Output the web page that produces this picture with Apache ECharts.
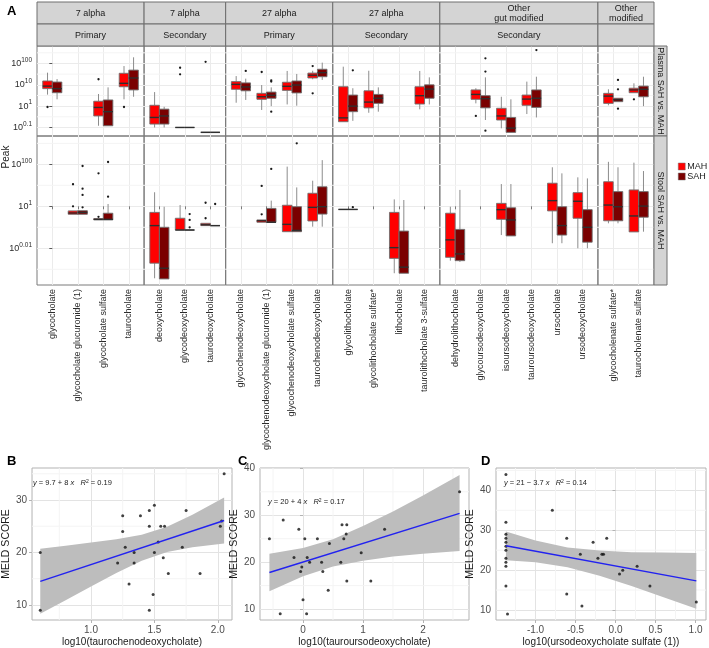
<!DOCTYPE html>
<html><head><meta charset="utf-8">
<script src="https://cdn.jsdelivr.net/npm/echarts@6/dist/echarts.min.js"></script>
<style>html,body{margin:0;padding:0;background:#fff}#c{width:709px;height:648px}</style>
</head><body><div id="c"></div><script>
const FONT = '"Liberation Sans", Arial, Helvetica, sans-serif';

// ================= Panel A data =================
const facetTop = ['7 alpha', '7 alpha', '27 alpha', '27 alpha', 'Other\ngut modified', 'Other\nmodified'];
const facetSub = ['Primary', 'Secondary', 'Primary', 'Secondary', 'Secondary', ''];
const facetCats = [
  ['glycocholate', 'glycocholate glucuronide (1)', 'glycocholate sulfate', 'taurocholate'],
  ['deoxycholate', 'glycodeoxycholate', 'taurodeoxycholate'],
  ['glycochenodeoxycholate', 'glycochenodeoxycholate glucuronide (1)', 'glycochenodeoxycholate sulfate', 'taurochenodeoxycholate'],
  ['glycolithocholate', 'glycolithocholate sulfate*', 'lithocholate', 'taurolithocholate 3-sulfate'],
  ['dehydrolithocholate', 'glycoursodeoxycholate', 'isoursodeoxycholate', 'tauroursodeoxycholate', 'ursocholate', 'ursodeoxycholate'],
  ['glycocholenate sulfate*', 'taurocholenate sulfate']
];
const rowNames = ['Plasma SAH vs. MAH', 'Stool SAH vs. MAH'];
const groupNames = ['MAH', 'SAH'];
const groupColors = ['#FF0000', '#7A0000'];
// y position on the double-log axis: 2 = 10^100, 1 = 10^10, 0 = 10^1, -1 = 10^0.1, -2 = 10^0.01
const plasmaTicks = [-1, 0, 1, 2];
const plasmaTickLabels = ['0.1', '1', '10', '100'];
const plasmaMinor = [-0.5, 0.5, 1.5, 2.5];
const stoolTicks = [-2, 0, 2];
const stoolTickLabels = ['0.01', '1', '100'];
const stoolMinor = [-3, -1, 1, 3];

// [metabolite, lower whisker, Q1, median, Q3, upper whisker]
const plasmaMAH = [
  ['glycocholate', 0.54, 0.82, 0.94, 1.18, 1.57],
  ['glycocholate sulfate', -0.92, -0.46, -0.06, 0.23, 0.57],
  ['taurocholate', 0.32, 0.91, 1.07, 1.54, 1.88],
  ['deoxycholate', -1.0, -0.84, -0.53, 0.04, 0.66],
  ['glycodeoxycholate', -1.0, -1.0, -1.0, -1.0, -1.0],
  ['taurodeoxycholate', -1.23, -1.23, -1.23, -1.23, -1.23],
  ['glycochenodeoxycholate', 0.16, 0.79, 1.02, 1.15, 1.41],
  ['glycochenodeoxycholate glucuronide (1)', -0.18, 0.32, 0.44, 0.60, 0.99],
  ['glycochenodeoxycholate sulfate', 0.08, 0.74, 0.93, 1.12, 1.65],
  ['taurochenodeoxycholate', 1.26, 1.32, 1.45, 1.55, 1.66],
  ['glycolithocholate', -0.73, -0.73, -0.55, 0.91, 1.85],
  ['glycolithocholate sulfate*', -0.31, -0.08, 0.19, 0.72, 1.66],
  ['taurolithocholate 3-sulfate', -0.15, 0.10, 0.49, 0.91, 1.65],
  ['glycoursodeoxycholate', 0.13, 0.32, 0.55, 0.76, 0.84],
  ['isoursodeoxycholate', -1.04, -0.65, -0.46, -0.10, 0.44],
  ['tauroursodeoxycholate', -0.37, 0.04, 0.33, 0.52, 1.15],
  ['glycocholenate sulfate*', 0.04, 0.13, 0.47, 0.60, 0.79],
  ['taurocholenate sulfate', 0.63, 0.63, 0.76, 0.84, 1.07]
];
const plasmaSAH = [
  ['glycocholate', 0.32, 0.63, 0.82, 1.13, 1.27],
  ['glycocholate sulfate', -0.92, -0.92, -0.26, 0.29, 0.88],
  ['taurocholate', 0.44, 0.76, 1.32, 1.69, 2.29],
  ['deoxycholate', -1.0, -0.84, -0.46, -0.14, -0.03],
  ['glycodeoxycholate', -1.0, -1.0, -1.0, -1.0, -1.0],
  ['taurodeoxycholate', -1.23, -1.23, -1.23, -1.23, -1.23],
  ['glycochenodeoxycholate', 0.29, 0.72, 0.90, 1.09, 1.29],
  ['glycochenodeoxycholate glucuronide (1)', 0.0, 0.37, 0.51, 0.66, 0.88],
  ['glycochenodeoxycholate sulfate', 0.02, 0.62, 0.99, 1.18, 1.51],
  ['taurochenodeoxycholate', 1.23, 1.38, 1.57, 1.73, 2.04],
  ['glycolithocholate', -0.69, -0.26, 0.0, 0.52, 0.84],
  ['glycolithocholate sulfate*', -0.26, 0.13, 0.37, 0.55, 0.88],
  ['taurolithocholate 3-sulfate', 0.08, 0.37, 0.80, 1.0, 1.35],
  ['glycoursodeoxycholate', -0.65, -0.08, 0.35, 0.49, 1.35],
  ['isoursodeoxycholate', -1.23, -1.23, -1.03, -0.53, 0.32],
  ['tauroursodeoxycholate', -0.53, -0.06, 0.37, 0.76, 1.38],
  ['glycocholenate sulfate*', 0.21, 0.21, 0.30, 0.37, 0.37],
  ['taurocholenate sulfate', 0.0, 0.44, 0.79, 0.94, 1.38]
];
const plasmaMAHOut = [
  ['glycocholate', -0.04], ['glycocholate sulfate', 1.26], ['taurocholate', -0.04],
  ['glycodeoxycholate', 1.80], ['glycodeoxycholate', 1.49], ['taurodeoxycholate', 2.08],
  ['glycochenodeoxycholate glucuronide (1)', 1.60], ['taurochenodeoxycholate', 1.88],
  ['taurochenodeoxycholate', 0.60], ['glycoursodeoxycholate', -0.46], ['taurocholenate sulfate', 0.32]
];
const plasmaSAHOut = [
  ['glycochenodeoxycholate', 1.65], ['glycochenodeoxycholate glucuronide (1)', 1.21],
  ['glycochenodeoxycholate glucuronide (1)', 1.15], ['glycochenodeoxycholate glucuronide (1)', -0.26],
  ['glycolithocholate', 1.68], ['glycoursodeoxycholate', 2.24], ['glycoursodeoxycholate', 1.62],
  ['glycoursodeoxycholate', -1.15], ['tauroursodeoxycholate', 2.63],
  ['glycocholenate sulfate*', 1.23], ['glycocholenate sulfate*', 0.79], ['glycocholenate sulfate*', -0.12]
];
const stoolMAH = [
  ['glycocholate glucuronide (1)', -0.38, -0.38, -0.32, -0.22, -0.22],
  ['glycocholate sulfate', -0.65, -0.65, -0.62, -0.59, -0.59],
  ['deoxycholate', -3.43, -2.71, -0.92, -0.29, 0.67],
  ['glycodeoxycholate', -1.13, -1.13, -1.13, -0.57, 0.06],
  ['taurodeoxycholate', -0.92, -0.92, -0.88, -0.81, -0.81],
  ['glycochenodeoxycholate glucuronide (1)', -0.76, -0.76, -0.69, -0.65, -0.65],
  ['glycochenodeoxycholate sulfate', -1.21, -1.21, -0.86, 0.05, 1.89],
  ['taurochenodeoxycholate', -0.97, -0.70, -0.05, 0.62, 1.22],
  ['glycolithocholate', -0.15, -0.15, -0.15, -0.15, -0.15],
  ['lithocholate', -3.19, -2.48, -1.97, -0.29, 0.33],
  ['dehydrolithocholate', -2.59, -2.43, -1.60, -0.33, -0.02],
  ['isoursodeoxycholate', -1.37, -0.62, -0.16, 0.14, 1.06],
  ['ursocholate', -1.76, -0.22, 0.27, 1.10, 1.86],
  ['ursodeoxycholate', -2.0, -0.57, 0.24, 0.65, 1.38],
  ['glycocholenate sulfate*', -0.81, -0.69, 0.06, 1.17, 2.12],
  ['taurocholenate sulfate', -1.22, -1.22, -0.46, 0.78, 2.08]
];
const stoolSAH = [
  ['glycocholate glucuronide (1)', -0.38, -0.38, -0.29, -0.21, -0.21],
  ['glycocholate sulfate', -0.65, -0.65, -0.62, -0.33, 0.11],
  ['deoxycholate', -3.46, -3.46, -2.95, -1.0, -0.02],
  ['glycodeoxycholate', -1.13, -1.13, -1.13, -1.13, -1.13],
  ['taurodeoxycholate', -0.92, -0.92, -0.92, -0.92, -0.92],
  ['glycochenodeoxycholate glucuronide (1)', -0.76, -0.76, -0.76, -0.10, 0.27],
  ['glycochenodeoxycholate sulfate', -1.21, -1.21, -1.15, -0.02, 0.90],
  ['taurochenodeoxycholate', -0.97, -0.37, -0.02, 0.93, 2.20],
  ['glycolithocholate', -0.15, -0.15, -0.15, -0.15, -0.15],
  ['lithocholate', -3.19, -3.19, -2.90, -1.18, 0.30],
  ['dehydrolithocholate', -2.65, -2.59, -2.27, -1.10, 0.78],
  ['isoursodeoxycholate', -1.41, -1.41, -0.65, -0.07, 1.06],
  ['ursocholate', -1.76, -1.37, -0.92, -0.02, 1.57],
  ['ursodeoxycholate', -2.0, -1.71, -1.0, -0.16, 1.33],
  ['glycocholenate sulfate*', -0.81, -0.69, -0.02, 0.70, 1.86],
  ['taurocholenate sulfate', -1.21, -0.52, 0.01, 0.70, 1.68]
];
const stoolMAHOut = [
  ['glycocholate glucuronide (1)', 1.05], ['glycocholate glucuronide (1)', 0.0],
  ['glycocholate sulfate', 1.57], ['glycocholate sulfate', -0.50],
  ['taurodeoxycholate', 0.17], ['taurodeoxycholate', -0.57],
  ['glycochenodeoxycholate glucuronide (1)', 0.97], ['glycochenodeoxycholate glucuronide (1)', -0.38]
];
const stoolSAHOut = [
  ['glycocholate glucuronide (1)', 1.92], ['glycocholate glucuronide (1)', 0.84],
  ['glycocholate glucuronide (1)', 0.54], ['glycocholate glucuronide (1)', -0.05],
  ['glycocholate sulfate', 2.11], ['glycocholate sulfate', 0.46],
  ['glycodeoxycholate', -0.37], ['glycodeoxycholate', -0.65], ['glycodeoxycholate', -1.0],
  ['taurodeoxycholate', 0.11], ['glycochenodeoxycholate glucuronide (1)', 1.78],
  ['glycochenodeoxycholate sulfate', 3.0], ['glycolithocholate', -0.04]
];

// ================= Panels B, C, D data =================
const bX = [0.60, 0.60, 1.25, 1.25, 1.27, 1.21, 1.34, 1.30, 1.34, 1.39, 1.46, 1.46, 1.50, 1.55, 1.58, 1.53, 1.50, 1.57, 1.61, 1.49, 1.46, 1.75, 1.72, 1.86, 2.02, 2.03, 2.05];
const bY = [20, 9, 27, 24, 21, 18, 18, 14, 20, 27, 28, 25, 29, 25, 25, 22, 20, 19, 16, 12, 9, 28, 21, 16, 25, 26, 35];
const bLineX = [0.60, 2.05], bLineY = [14.5, 26.1];
const bBandX = [0.60, 0.80, 1.00, 1.20, 1.40, 1.60, 1.80, 2.05];
const bBandLo = [8.3, 10.9, 13.5, 16.1, 18.4, 20.1, 21.0, 21.7];
const bBandHi = [20.7, 21.3, 21.9, 22.5, 23.4, 24.9, 27.2, 30.5];

const cX = [-0.56, -0.33, -0.38, -0.15, -0.07, -0.04, -0.02, 0.03, 0.00, 0.07, 0.06, 0.11, 0.24, 0.31, 0.33, 0.44, 0.42, 0.63, 0.65, 0.68, 0.73, 0.72, 0.73, 0.97, 1.13, 1.36, 2.61];
const cY = [25, 29, 9, 21, 27, 18, 19, 25, 12, 21, 9, 20, 25, 20, 18, 24, 14, 20, 28, 25, 28, 26, 16, 22, 16, 27, 35];
const cLineX = [-0.56, 2.61], cLineY = [17.8, 30.4];
const cBandX = [-0.56, 0.0, 0.5, 1.0, 1.5, 2.0, 2.61];
const cBandLo = [13.8, 17.0, 19.1, 20.3, 21.2, 21.8, 22.4];
const cBandHi = [21.8, 23.0, 24.9, 27.7, 30.8, 34.2, 38.6];

const dX = [-1.37, -1.37, -1.37, -1.37, -1.37, -1.37, -1.37, -1.37, -1.37, -1.37, -1.35, -1.37, -0.79, -0.61, -0.61, -0.44, -0.42, -0.28, -0.22, -0.17, -0.15, -0.11, 0.05, 0.09, 0.27, 0.43, 1.01];
const dY = [32, 29, 28, 27, 26, 25, 23, 22, 21, 16, 9, 44, 35, 28, 14, 24, 11, 27, 23, 24, 24, 28, 19, 20, 21, 16, 12];
const dLineX = [-1.37, 1.01], dLineY = [26.1, 17.3];
const dBandX = [-1.37, -1.0, -0.6, -0.2, 0.2, 0.6, 1.01];
const dBandLo = [22.5, 22.0, 20.7, 18.6, 16.0, 13.2, 10.3];
const dBandHi = [29.7, 27.4, 25.7, 24.9, 24.5, 24.4, 24.3];

// ================= Build =================
const chart = echarts.init(document.getElementById('c'), null, { renderer: 'canvas' });
const grids = [], xAxes = [], yAxes = [], series = [], graphic = [];

const L0 = 37, R0 = 654;
const U = (R0 - L0) / (23 + 6 * 0.2);
const rowTop = [46, 136], rowH = [90, 149];
const rowRange = [[-1.40, 2.82], [-3.75, 3.35]];
const rowTicks = [plasmaTicks, stoolTicks];
const rowTickLabels = [plasmaTickLabels, stoolTickLabels];
const rowMinor = [plasmaMinor, stoolMinor];
const rowBoxes = [[plasmaMAH, plasmaSAH], [stoolMAH, stoolSAH]];
const rowOuts = [[plasmaMAHOut, plasmaSAHOut], [stoolMAHOut, stoolSAHOut]];
const facetLeft = [], facetW = [];
let acc = L0;
facetCats.forEach((c) => { facetLeft.push(acc); facetW.push((c.length + 0.2) * U); acc += (c.length + 0.2) * U; });

const MAJOR = '#EBEBEB', MINOR = '#F4F4F4';

// minor grid lines drawn through the axes' own scales
function minorLines(gi, xr, yr, xs, ys) {
  const data = [];
  (xs || []).forEach(v => data.push([0, v]));
  (ys || []).forEach(v => data.push([1, v]));
  return {
    type: 'custom', xAxisIndex: gi, yAxisIndex: gi, silent: true, z: 1,
    data, encode: { x: -1, y: -1 },
    renderItem: function (params, api) {
      const kind = api.value(0), v = api.value(1);
      const a = kind === 0 ? api.coord([v, yr[0]]) : api.coord([xr[0], v]);
      const b = kind === 0 ? api.coord([v, yr[1]]) : api.coord([xr[1], v]);
      return { type: 'line', shape: { x1: a[0], y1: a[1], x2: b[0], y2: b[1] }, style: { stroke: MINOR, lineWidth: 1 } };
    }
  };
}

function makeBoxRender(outsList, color, side) {
  return function (params, api) {
    const ci = api.value(0);
    const xs = ci + side * 0.1875;
    const w = api.size([0.375, 0])[0];
    const xc = api.coord([xs, 0])[0];
    const yy = k => api.coord([xs, api.value(k)])[1];
    const yLo = yy(1), yQ1 = yy(2), yMed = yy(3), yQ3 = yy(4), yHi = yy(5);
    const children = [
      { type: 'line', shape: { x1: xc, y1: yHi, x2: xc, y2: yQ3 }, style: { stroke: '#8c8c8c', lineWidth: 1 } },
      { type: 'line', shape: { x1: xc, y1: yQ1, x2: xc, y2: yLo }, style: { stroke: '#8c8c8c', lineWidth: 1 } },
      { type: 'rect', shape: { x: xc - w / 2, y: yQ3, width: w, height: Math.max(yQ1 - yQ3, 0) }, style: { fill: color, stroke: '#6e6e6e', lineWidth: 0.9 } },
      { type: 'line', shape: { x1: xc - w / 2, y1: yMed, x2: xc + w / 2, y2: yMed }, style: { stroke: '#2e2e2e', lineWidth: 1.4 } }
    ];
    (outsList[params.dataIndex] || []).forEach(v => {
      const p = api.coord([xs, v]);
      children.push({ type: 'circle', shape: { cx: p[0], cy: p[1], r: 1.15 }, style: { fill: '#1a1a1a' } });
    });
    return { type: 'group', children };
  };
}

const stripFill = '#D4D4D4', stripStroke = '#6e6e6e';
for (let r = 0; r < 2; r++) {
  for (let f = 0; f < facetCats.length; f++) {
    const gi = grids.length;
    const cats = facetCats[f];
    grids.push({ left: facetLeft[f], top: rowTop[r], width: facetW[f], height: rowH[r], show: true, borderColor: '#7a7a7a', borderWidth: 1, backgroundColor: 'transparent', containLabel: false });
    const idxs = cats.map((c, i) => i);
    const xr = [-0.6, cats.length - 0.4];
    xAxes.push({
      type: 'value', gridIndex: gi, min: xr[0], max: xr[1],
      axisLine: { show: false },
      axisTick: { show: r === 1, length: 3, lineStyle: { color: '#7a7a7a' }, customValues: idxs },
      axisLabel: r === 1 ? { show: true, rotate: 90, margin: 4, fontSize: 9, color: '#2b2b2b', fontFamily: FONT, customValues: idxs, formatter: v => cats[Math.round(v)] || '' } : { show: false, customValues: idxs },
      splitLine: { show: true, lineStyle: { color: MAJOR, width: 1 } }
    });
    const ticks = rowTicks[r], tl = rowTickLabels[r];
    yAxes.push({
      type: 'value', gridIndex: gi, min: rowRange[r][0], max: rowRange[r][1],
      axisLine: { show: false },
      axisTick: { show: f === 0, length: 3, lineStyle: { color: '#5a5a5a' }, customValues: ticks },
      axisLabel: f === 0 ? {
        show: true, margin: 5, customValues: ticks, fontFamily: FONT,
        formatter: v => { const k = ticks.indexOf(Math.round(v * 100) / 100); return k < 0 ? '' : '{b|10}{s|' + tl[k] + '}'; },
        rich: { b: { fontSize: 9, lineHeight: 14, color: '#2b2b2b', fontFamily: FONT }, s: { fontSize: 6.5, lineHeight: 8, verticalAlign: 'top', color: '#2b2b2b', fontFamily: FONT } }
      } : { show: false, customValues: ticks },
      splitLine: { show: true, lineStyle: { color: MAJOR, width: 1 } }
    });
    series.push(minorLines(gi, xr, rowRange[r], null, rowMinor[r]));
    for (let g = 0; g < 2; g++) {
      const boxes = rowBoxes[r][g].filter(b => cats.indexOf(b[0]) >= 0);
      const data = boxes.map(b => [cats.indexOf(b[0]), b[1], b[2], b[3], b[4], b[5]]);
      const outsList = boxes.map(b => rowOuts[r][g].filter(o => o[0] === b[0]).map(o => o[1]));
      series.push({
        type: 'custom', name: groupNames[g], xAxisIndex: gi, yAxisIndex: gi,
        itemStyle: { color: groupColors[g], borderColor: '#6e6e6e' },
        encode: { x: 0, y: [1, 2, 3, 4, 5] },
        data, renderItem: makeBoxRender(outsList, groupColors[g], g === 0 ? -1 : 1), z: 3, silent: true
      });
    }
  }
}

// strips (top)
for (let f = 0; f < facetCats.length; f++) {
  graphic.push({ type: 'rect', shape: { x: facetLeft[f], y: 2, width: facetW[f], height: 22 }, style: { fill: stripFill, stroke: stripStroke, lineWidth: 1 }, z: 10 });
  graphic.push({ type: 'rect', shape: { x: facetLeft[f], y: 24, width: facetW[f], height: 22 }, style: { fill: stripFill, stroke: stripStroke, lineWidth: 1 }, z: 10 });
  graphic.push({ type: 'text', x: facetLeft[f] + facetW[f] / 2, y: 13.5, style: { text: facetTop[f], align: 'center', verticalAlign: 'middle', font: '9px ' + FONT, fill: '#1a1a1a', lineHeight: 9.5 }, z: 11 });
  if (facetSub[f]) graphic.push({ type: 'text', x: facetLeft[f] + facetW[f] / 2, y: 35.5, style: { text: facetSub[f], align: 'center', verticalAlign: 'middle', font: '9px ' + FONT, fill: '#1a1a1a' }, z: 11 });
}
// strips (right)
for (let r = 0; r < 2; r++) {
  graphic.push({ type: 'rect', shape: { x: R0, y: rowTop[r], width: 13, height: rowH[r] }, style: { fill: stripFill, stroke: stripStroke, lineWidth: 1 }, z: 10 });
  graphic.push({ type: 'text', x: R0 + 6.5, y: rowTop[r] + rowH[r] / 2, rotation: -Math.PI / 2, style: { text: rowNames[r], align: 'center', verticalAlign: 'middle', font: '9px ' + FONT, fill: '#1a1a1a' }, z: 11 });
}
graphic.push({ type: 'text', x: 6.5, y: 157, rotation: Math.PI / 2, style: { text: 'Peak', align: 'center', verticalAlign: 'middle', font: '10px ' + FONT, fill: '#1a1a1a' } });
graphic.push({ type: 'text', x: 7, y: 11, style: { text: 'A', align: 'left', verticalAlign: 'middle', font: 'bold 13px ' + FONT, fill: '#000' } });

// ================= Panels B, C, D =================
const scatterPanels = [
  { tag: 'B', tagX: 7, x: bX, y: bY, lx: bLineX, ly: bLineY, bx: bBandX, blo: bBandLo, bhi: bBandHi,
    xTitle: 'log10(taurochenodeoxycholate)', box: [25, 468, 207, 156.5], xr: [0.535, 2.112], yr: [7.13, 36.1],
    xMaj: [1.0, 1.5, 2.0], xMin: [0.75, 1.25, 1.75], xDec: 1, yMaj: [10, 20, 30], yMin: [15, 25, 35],
    eq: '{i|y} = 9.7 + 8 {i|x}   {i|R}{s|2} = 0.19', eqX: 33, eqY: 483 },
  { tag: 'C', tagX: 238, x: cX, y: cY, lx: cLineX, ly: cLineY, bx: cBandX, blo: cBandLo, bhi: cBandHi,
    xTitle: 'log10(tauroursodeoxycholate)', box: [260, 468, 209, 156.5], xr: [-0.717, 2.767], yr: [7.68, 40.07],
    xMaj: [0, 1, 2], xMin: [-0.5, 0.5, 1.5, 2.5], xDec: 0, yMaj: [10, 20, 30, 40], yMin: [15, 25, 35],
    eq: '{i|y} = 20 + 4 {i|x}   {i|R}{s|2} = 0.17', eqX: 268, eqY: 502 },
  { tag: 'D', tagX: 481, x: dX, y: dY, lx: dLineX, ly: dLineY, bx: dBandX, blo: dBandLo, bhi: dBandHi,
    xTitle: 'log10(ursodeoxycholate sulfate (1))', box: [496, 468, 210, 156.5], xr: [-1.494, 1.131], yr: [7.5, 45.6],
    xMaj: [-1.0, -0.5, 0.0, 0.5, 1.0], xMin: [-1.25, -0.75, -0.25, 0.25, 0.75], xDec: 1, yMaj: [10, 20, 30, 40], yMin: [15, 25, 35, 45],
    eq: '{i|y} = 21 \u2212 3.7 {i|x}   {i|R}{s|2} = 0.14', eqX: 504, eqY: 483 }
];

scatterPanels.forEach(p => {
  const gi = grids.length;
  grids.push({ left: p.box[0], top: p.box[1], width: p.box[2], height: p.box[3], show: true, borderColor: '#B3B3B3', borderWidth: 1, backgroundColor: 'transparent' });
  xAxes.push({
    type: 'value', gridIndex: gi, min: p.xr[0], max: p.xr[1],
    name: p.xTitle, nameLocation: 'middle', nameGap: 17, nameTextStyle: { fontSize: 10, color: '#1a1a1a', fontFamily: FONT },
    axisLine: { show: false },
    axisTick: { show: true, length: 3, lineStyle: { color: '#B3B3B3' }, customValues: p.xMaj },
    axisLabel: { show: true, margin: 5, fontSize: 10, color: '#4D4D4D', fontFamily: FONT, customValues: p.xMaj, formatter: v => v.toFixed(p.xDec) },
    splitLine: { show: true, lineStyle: { color: '#E3E3E3', width: 1 } }
  });
  yAxes.push({
    type: 'value', gridIndex: gi, min: p.yr[0], max: p.yr[1],
    name: 'MELD SCORE', nameLocation: 'middle', nameGap: 17, nameRotate: 90, nameTextStyle: { fontSize: 10.5, color: '#1a1a1a', fontFamily: FONT },
    axisLine: { show: false },
    axisTick: { show: true, length: 3, lineStyle: { color: '#B3B3B3' }, customValues: p.yMaj },
    axisLabel: { show: true, margin: 5, fontSize: 10, color: '#4D4D4D', fontFamily: FONT, customValues: p.yMaj, formatter: v => String(Math.round(v)) },
    splitLine: { show: true, lineStyle: { color: '#E3E3E3', width: 1 } }
  });
  series.push(minorLines(gi, p.xr, p.yr, p.xMin, p.yMin));
  series.push({
    type: 'custom', xAxisIndex: gi, yAxisIndex: gi, silent: true, z: 2,
    encode: { x: 0, y: [1, 2] }, data: p.bx.map((x, i) => [x, p.blo[i], p.bhi[i]]),
    renderItem: function (params, api) {
      if (params.dataIndex !== 0) return null;
      const pts = [];
      for (let i = 0; i < p.bx.length; i++) pts.push(api.coord([p.bx[i], p.bhi[i]]));
      for (let i = p.bx.length - 1; i >= 0; i--) pts.push(api.coord([p.bx[i], p.blo[i]]));
      return { type: 'polygon', shape: { points: pts }, style: { fill: '#BDBDBD', opacity: 1 } };
    }
  });
  series.push({
    type: 'scatter', xAxisIndex: gi, yAxisIndex: gi, silent: true, z: 3,
    symbol: 'circle', symbolSize: 3, itemStyle: { color: '#111' },
    data: p.x.map((x, i) => [x, p.y[i]])
  });
  series.push({
    type: 'line', xAxisIndex: gi, yAxisIndex: gi, silent: true, z: 4,
    symbol: 'none', lineStyle: { color: '#2222F0', width: 1.4 },
    data: p.lx.map((x, i) => [x, p.ly[i]])
  });
  graphic.push({ type: 'text', x: p.tagX, y: 461, style: { text: p.tag, align: 'left', verticalAlign: 'middle', font: 'bold 13px ' + FONT, fill: '#000' } });
  graphic.push({ type: 'text', x: p.eqX, y: p.eqY, z: 20, style: { text: p.eq, align: 'left', verticalAlign: 'middle', font: '7.5px ' + FONT, fill: '#1a1a1a',
    rich: { i: { fontStyle: 'italic', fontSize: 7.5, fontFamily: FONT, fill: '#1a1a1a' }, s: { fontSize: 5, lineHeight: 5, verticalAlign: 'top', fontFamily: FONT, fill: '#1a1a1a' } } } });
});

const option = {
  animation: false,
  backgroundColor: '#ffffff',
  textStyle: { fontFamily: FONT },
  grid: grids, xAxis: xAxes, yAxis: yAxes, series,
  legend: {
    data: groupNames, orient: 'vertical', left: 673, top: 157, itemWidth: 7, itemHeight: 7, itemGap: 1,
    icon: 'rect', selectedMode: false, textStyle: { fontSize: 9, color: '#1a1a1a', fontFamily: FONT, padding: [0, 0, 0, -3] },
    itemStyle: { borderColor: '#777', borderWidth: 0.5 }
  },
  graphic
};
chart.setOption(option);
</script></body></html>
